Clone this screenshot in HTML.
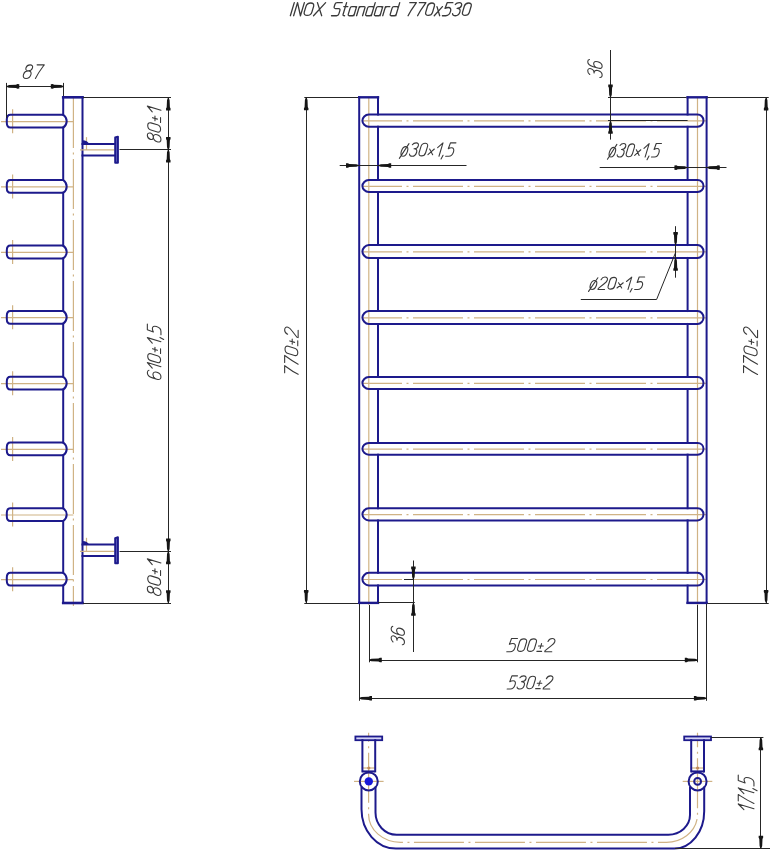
<!DOCTYPE html>
<html><head><meta charset="utf-8"><title>INOX Standard 770x530</title>
<style>
html,body{margin:0;padding:0;background:#fff;}
body{width:770px;height:850px;overflow:hidden;font-family:"Liberation Sans",sans-serif;}
svg{display:block;}
.t path{vector-effect:non-scaling-stroke;}
</style></head><body>
<svg width="770" height="850" viewBox="0 0 770 850">
<rect width="770" height="850" fill="#fff"/>
<g fill="none" stroke="#3a3a3a" stroke-width="1.3" stroke-linecap="round" stroke-linejoin="round" class="t" ><path transform="matrix(1.3625 0.0000 0.3930 -1.3100 290.350 15.750)" d="M0,0 L0,10"/><path transform="matrix(1.3625 0.0000 0.3930 -1.3100 293.620 15.750)" d="M0,0 L0,10 L5,0 L5,10"/><path transform="matrix(1.3625 0.0000 0.3930 -1.3100 303.158 15.750)" d="M0,2.8 L0,7.2 C0,10.6 5.6,10.6 5.6,7.2 L5.6,2.8 C5.6,-0.6 0,-0.6 0,2.8 Z"/><path transform="matrix(1.3625 0.0000 0.3930 -1.3100 313.513 15.750)" d="M0,0 L6,10 M0,10 L6,0"/><path transform="matrix(1.3625 0.0000 0.3930 -1.3100 331.498 15.750)" d="M5,10 L1.3,10 C0.5,10 0,9.4 0,8.6 L0,6.9 C0,6.1 0.5,5.5 1.3,5.5 L3.7,5.5 C4.5,5.5 5,4.9 5,4.1 L5,1.4 C5,0.6 4.5,0 3.7,0 L0,0"/><path transform="matrix(1.3625 0.0000 0.3930 -1.3100 341.036 15.750)" d="M1.2,10 L1.2,1 C1.2,0.3 1.7,0 2.6,0 M0,7 L3,7"/><path transform="matrix(1.3625 0.0000 0.3930 -1.3100 347.849 15.750)" d="M4.4,7 L4.4,0 M4.4,6 L3.6,7 L0.9,7 C0.3,7 0,6.5 0,5.8 L0,1.2 C0,0.5 0.3,0 0.9,0 L3.6,0 L4.4,1"/><path transform="matrix(1.3625 0.0000 0.3930 -1.3100 356.569 15.750)" d="M0,0 L0,7 M0,6 L0.9,7 L3.5,7 C4.1,7 4.4,6.6 4.4,6 L4.4,0"/><path transform="matrix(1.3625 0.0000 0.3930 -1.3100 365.289 15.750)" d="M4.4,10 L4.4,0 M4.4,6 L3.6,7 L0.9,7 C0.3,7 0,6.5 0,5.8 L0,1.2 C0,0.5 0.3,0 0.9,0 L3.6,0 L4.4,1"/><path transform="matrix(1.3625 0.0000 0.3930 -1.3100 374.009 15.750)" d="M4.4,7 L4.4,0 M4.4,6 L3.6,7 L0.9,7 C0.3,7 0,6.5 0,5.8 L0,1.2 C0,0.5 0.3,0 0.9,0 L3.6,0 L4.4,1"/><path transform="matrix(1.3625 0.0000 0.3930 -1.3100 382.730 15.750)" d="M0,0 L0,7 M0,6 L0.9,7 L3.2,7"/><path transform="matrix(1.3625 0.0000 0.3930 -1.3100 389.815 15.750)" d="M4.4,10 L4.4,0 M4.4,6 L3.6,7 L0.9,7 C0.3,7 0,6.5 0,5.8 L0,1.2 C0,0.5 0.3,0 0.9,0 L3.6,0 L4.4,1"/><path transform="matrix(1.3625 0.0000 0.3930 -1.3100 405.620 15.750)" d="M0.2,10 L5,10 C4.2,8 2.6,4.5 1.8,0"/><path transform="matrix(1.3625 0.0000 0.3930 -1.3100 415.158 15.750)" d="M0.2,10 L5,10 C4.2,8 2.6,4.5 1.8,0"/><path transform="matrix(1.3625 0.0000 0.3930 -1.3100 424.696 15.750)" d="M0,2.6 L0,7.4 C0,10.5 5,10.5 5,7.4 L5,2.6 C5,-0.5 0,-0.5 0,2.6 Z"/><path transform="matrix(1.3625 0.0000 0.3930 -1.3100 434.233 15.750)" d="M0,0 L4,7 M0,7 L4,0"/><path transform="matrix(1.3625 0.0000 0.3930 -1.3100 442.409 15.750)" d="M4.8,10 L0.6,10 L0.3,5.6 C1,6.1 1.8,6.3 2.6,6.3 C4.1,6.3 5,5.1 5,3.3 C5,1.2 4,0 2.4,0 L0,0"/><path transform="matrix(1.3625 0.0000 0.3930 -1.3100 451.946 15.750)" d="M0,8.6 C0.4,9.6 1.4,10 2.5,10 C3.9,10 4.8,9.1 4.8,7.8 C4.8,6.4 3.8,5.6 2.2,5.6 C3.9,5.6 5,4.7 5,3 C5,1.1 3.9,0 2.5,0 C1.3,0 0.3,0.5 0,1.6"/><path transform="matrix(1.3625 0.0000 0.3930 -1.3100 461.484 15.750)" d="M0,2.6 L0,7.4 C0,10.5 5,10.5 5,7.4 L5,2.6 C5,-0.5 0,-0.5 0,2.6 Z"/></g>
<line x1="73.4" y1="98" x2="73.4" y2="606" stroke="#d0b385" stroke-width="1.2" stroke-dasharray="50 4.5 2 4.5"/>
<line x1="1.0" y1="121.60000000000001" x2="73.4" y2="121.60000000000001" stroke="#d0b385" stroke-width="1.2" />
<line x1="12.6" y1="109.2" x2="12.6" y2="133.2" stroke="#d0b385" stroke-width="1.2" />
<line x1="1.0" y1="186.8" x2="73.4" y2="186.8" stroke="#d0b385" stroke-width="1.2" />
<line x1="12.6" y1="174.4" x2="12.6" y2="198.4" stroke="#d0b385" stroke-width="1.2" />
<line x1="1.0" y1="252.4" x2="73.4" y2="252.4" stroke="#d0b385" stroke-width="1.2" />
<line x1="12.6" y1="240.0" x2="12.6" y2="264.0" stroke="#d0b385" stroke-width="1.2" />
<line x1="1.0" y1="317.7" x2="73.4" y2="317.7" stroke="#d0b385" stroke-width="1.2" />
<line x1="12.6" y1="305.3" x2="12.6" y2="329.3" stroke="#d0b385" stroke-width="1.2" />
<line x1="1.0" y1="383.59999999999997" x2="73.4" y2="383.59999999999997" stroke="#d0b385" stroke-width="1.2" />
<line x1="12.6" y1="371.2" x2="12.6" y2="395.2" stroke="#d0b385" stroke-width="1.2" />
<line x1="1.0" y1="449.29999999999995" x2="73.4" y2="449.29999999999995" stroke="#d0b385" stroke-width="1.2" />
<line x1="12.6" y1="436.9" x2="12.6" y2="460.9" stroke="#d0b385" stroke-width="1.2" />
<line x1="1.0" y1="515.0" x2="73.4" y2="515.0" stroke="#d0b385" stroke-width="1.2" />
<line x1="12.6" y1="502.6" x2="12.6" y2="526.6" stroke="#d0b385" stroke-width="1.2" />
<line x1="1.0" y1="579.6" x2="73.4" y2="579.6" stroke="#d0b385" stroke-width="1.2" />
<line x1="12.6" y1="567.2" x2="12.6" y2="591.2" stroke="#d0b385" stroke-width="1.2" />
<line x1="82.5" y1="97.3" x2="82.5" y2="603.0" stroke="#1d1a8c" stroke-width="2.0" stroke-linecap="square"/>
<line x1="63.2" y1="97.3" x2="82.5" y2="97.3" stroke="#1d1a8c" stroke-width="2.6" stroke-linecap="square"/>
<line x1="63.2" y1="603.0" x2="82.5" y2="603.0" stroke="#1d1a8c" stroke-width="2.6" stroke-linecap="square"/>
<line x1="63.2" y1="97.3" x2="63.2" y2="114.8" stroke="#1d1a8c" stroke-width="2.0" stroke-linecap="square"/>
<line x1="63.2" y1="127.60000000000001" x2="63.2" y2="180.0" stroke="#1d1a8c" stroke-width="2.0" stroke-linecap="square"/>
<line x1="63.2" y1="192.8" x2="63.2" y2="245.6" stroke="#1d1a8c" stroke-width="2.0" stroke-linecap="square"/>
<line x1="63.2" y1="258.4" x2="63.2" y2="310.90000000000003" stroke="#1d1a8c" stroke-width="2.0" stroke-linecap="square"/>
<line x1="63.2" y1="323.7" x2="63.2" y2="376.8" stroke="#1d1a8c" stroke-width="2.0" stroke-linecap="square"/>
<line x1="63.2" y1="389.59999999999997" x2="63.2" y2="442.5" stroke="#1d1a8c" stroke-width="2.0" stroke-linecap="square"/>
<line x1="63.2" y1="455.29999999999995" x2="63.2" y2="508.20000000000005" stroke="#1d1a8c" stroke-width="2.0" stroke-linecap="square"/>
<line x1="63.2" y1="521.0" x2="63.2" y2="572.8000000000001" stroke="#1d1a8c" stroke-width="2.0" stroke-linecap="square"/>
<line x1="63.2" y1="585.6" x2="63.2" y2="603.0" stroke="#1d1a8c" stroke-width="2.0" stroke-linecap="square"/>
<path d="M63.2,114.8 L10.4,114.8 C8.1,114.8 6.8,117.0 6.8,119.60000000000001 L6.8,122.8 C6.8,125.4 8.1,127.60000000000001 10.4,127.60000000000001 L63.2,127.60000000000001" stroke="#1d1a8c" stroke-width="2.0" fill="none" />
<path d="M63.2,114.8 C65.6,116.6 66.7,118.8 66.7,121.2 C66.7,123.60000000000001 65.6,125.80000000000001 63.2,127.60000000000001" stroke="#1d1a8c" stroke-width="2.0" fill="none" />
<path d="M63.2,180.0 L10.4,180.0 C8.1,180.0 6.8,182.2 6.8,184.8 L6.8,188.0 C6.8,190.60000000000002 8.1,192.8 10.4,192.8 L63.2,192.8" stroke="#1d1a8c" stroke-width="2.0" fill="none" />
<path d="M63.2,180.0 C65.6,181.8 66.7,184.0 66.7,186.4 C66.7,188.8 65.6,191.0 63.2,192.8" stroke="#1d1a8c" stroke-width="2.0" fill="none" />
<path d="M63.2,245.6 L10.4,245.6 C8.1,245.6 6.8,247.79999999999998 6.8,250.4 L6.8,253.6 C6.8,256.2 8.1,258.4 10.4,258.4 L63.2,258.4" stroke="#1d1a8c" stroke-width="2.0" fill="none" />
<path d="M63.2,245.6 C65.6,247.4 66.7,249.6 66.7,252.0 C66.7,254.4 65.6,256.59999999999997 63.2,258.4" stroke="#1d1a8c" stroke-width="2.0" fill="none" />
<path d="M63.2,310.90000000000003 L10.4,310.90000000000003 C8.1,310.90000000000003 6.8,313.1 6.8,315.7 L6.8,318.90000000000003 C6.8,321.5 8.1,323.7 10.4,323.7 L63.2,323.7" stroke="#1d1a8c" stroke-width="2.0" fill="none" />
<path d="M63.2,310.90000000000003 C65.6,312.70000000000005 66.7,314.90000000000003 66.7,317.3 C66.7,319.7 65.6,321.9 63.2,323.7" stroke="#1d1a8c" stroke-width="2.0" fill="none" />
<path d="M63.2,376.8 L10.4,376.8 C8.1,376.8 6.8,379.0 6.8,381.59999999999997 L6.8,384.8 C6.8,387.4 8.1,389.59999999999997 10.4,389.59999999999997 L63.2,389.59999999999997" stroke="#1d1a8c" stroke-width="2.0" fill="none" />
<path d="M63.2,376.8 C65.6,378.6 66.7,380.8 66.7,383.2 C66.7,385.59999999999997 65.6,387.79999999999995 63.2,389.59999999999997" stroke="#1d1a8c" stroke-width="2.0" fill="none" />
<path d="M63.2,442.5 L10.4,442.5 C8.1,442.5 6.8,444.7 6.8,447.29999999999995 L6.8,450.5 C6.8,453.09999999999997 8.1,455.29999999999995 10.4,455.29999999999995 L63.2,455.29999999999995" stroke="#1d1a8c" stroke-width="2.0" fill="none" />
<path d="M63.2,442.5 C65.6,444.3 66.7,446.5 66.7,448.9 C66.7,451.29999999999995 65.6,453.49999999999994 63.2,455.29999999999995" stroke="#1d1a8c" stroke-width="2.0" fill="none" />
<path d="M63.2,508.20000000000005 L10.4,508.20000000000005 C8.1,508.20000000000005 6.8,510.40000000000003 6.8,513.0 L6.8,516.2 C6.8,518.8 8.1,521.0 10.4,521.0 L63.2,521.0" stroke="#1d1a8c" stroke-width="2.0" fill="none" />
<path d="M63.2,508.20000000000005 C65.6,510.00000000000006 66.7,512.2 66.7,514.6 C66.7,517.0 65.6,519.2 63.2,521.0" stroke="#1d1a8c" stroke-width="2.0" fill="none" />
<path d="M63.2,572.8000000000001 L10.4,572.8000000000001 C8.1,572.8000000000001 6.8,575.0000000000001 6.8,577.6 L6.8,580.8000000000001 C6.8,583.4 8.1,585.6 10.4,585.6 L63.2,585.6" stroke="#1d1a8c" stroke-width="2.0" fill="none" />
<path d="M63.2,572.8000000000001 C65.6,574.6 66.7,576.8000000000001 66.7,579.2 C66.7,581.6 65.6,583.8000000000001 63.2,585.6" stroke="#1d1a8c" stroke-width="2.0" fill="none" />
<line x1="80" y1="149.9" x2="114.5" y2="149.9" stroke="#d0b385" stroke-width="1.2" />
<line x1="86.5" y1="137.15" x2="86.5" y2="149.9" stroke="#d0b385" stroke-width="1.2" />
<line x1="82.5" y1="143.9" x2="114.8" y2="143.9" stroke="#1d1a8c" stroke-width="2.0" stroke-linecap="square"/>
<line x1="82.5" y1="155.4" x2="114.8" y2="155.4" stroke="#1d1a8c" stroke-width="2.0" stroke-linecap="square"/>
<path d="M115.2,137.45000000000002 L117.9,136.65 L117.9,162.65 L115.2,162.65 Z" fill="#6f6ec8" stroke="#1d1a8c" stroke-width="2" stroke-linejoin="round"/>
<path d="M82.5,140.25 C85.8,140.25 88.2,141.65 89.2,143.9 L82.5,143.9 Z" fill="#1d1a8c"/>
<line x1="80" y1="551.3" x2="114.5" y2="551.3" stroke="#d0b385" stroke-width="1.2" />
<line x1="86.5" y1="537.8" x2="86.5" y2="551.3" stroke="#d0b385" stroke-width="1.2" />
<line x1="82.5" y1="544.55" x2="114.8" y2="544.55" stroke="#1d1a8c" stroke-width="2.0" stroke-linecap="square"/>
<line x1="82.5" y1="556.05" x2="114.8" y2="556.05" stroke="#1d1a8c" stroke-width="2.0" stroke-linecap="square"/>
<path d="M115.2,538.0999999999999 L117.9,537.3 L117.9,563.3 L115.2,563.3 Z" fill="#6f6ec8" stroke="#1d1a8c" stroke-width="2" stroke-linejoin="round"/>
<path d="M82.5,540.9 C85.8,540.9 88.2,542.3 89.2,544.55 L82.5,544.55 Z" fill="#1d1a8c"/>
<line x1="6.5" y1="82.9" x2="6.5" y2="118" stroke="#262626" stroke-width="1.0" />
<line x1="63.5" y1="82.9" x2="63.5" y2="96" stroke="#262626" stroke-width="1.0" />
<line x1="6.5" y1="86.5" x2="63.6" y2="86.5" stroke="#262626" stroke-width="1.0" />
<polygon points="6.80,85.90 9.00,85.10 16.00,84.80 17.40,84.10 19.30,84.20 19.30,88.60 17.40,88.70 16.00,88.00 9.00,87.70 6.80,86.90" fill="#151515"/>
<polygon points="63.30,85.90 61.10,85.10 54.10,84.80 52.70,84.10 50.80,84.20 50.80,88.60 52.70,88.70 54.10,88.00 61.10,87.70 63.30,86.90" fill="#151515"/>
<g fill="none" stroke="#3a3a3a" stroke-width="1.1" stroke-linecap="round" stroke-linejoin="round" class="t" ><path transform="matrix(1.4868 0.0000 0.4080 -1.3600 22.329 78.450)" d="M2.5,5.6 C1.1,5.6 0.3,6.5 0.3,7.8 C0.3,9.2 1.3,10 2.5,10 C3.7,10 4.7,9.2 4.7,7.8 C4.7,6.5 3.9,5.6 2.5,5.6 C1,5.6 0,4.6 0,2.8 C0,1 1,0 2.5,0 C4,0 5,1 5,2.8 C5,4.6 4,5.6 2.5,5.6 Z"/><path transform="matrix(1.4868 0.0000 0.4080 -1.3600 32.736 78.450)" d="M0.2,10 L5,10 C4.2,8 2.6,4.5 1.8,0"/></g>
<line x1="83" y1="97.5" x2="171" y2="97.5" stroke="#262626" stroke-width="1.0" />
<line x1="119.5" y1="149.5" x2="171" y2="149.5" stroke="#262626" stroke-width="1.0" />
<line x1="119.5" y1="551.5" x2="171" y2="551.5" stroke="#262626" stroke-width="1.0" />
<line x1="83" y1="603.5" x2="171" y2="603.5" stroke="#262626" stroke-width="1.0" />
<line x1="168.5" y1="97.5" x2="168.5" y2="603.1" stroke="#262626" stroke-width="1.0" />
<polygon points="167.80,98.00 167.00,100.20 166.70,107.20 166.00,108.60 166.10,110.50 170.50,110.50 170.60,108.60 169.90,107.20 169.60,100.20 168.80,98.00" fill="#151515"/>
<polygon points="167.80,149.50 167.00,147.30 166.70,140.30 166.00,138.90 166.10,137.00 170.50,137.00 170.60,138.90 169.90,140.30 169.60,147.30 168.80,149.50" fill="#151515"/>
<polygon points="167.80,150.00 167.00,152.20 166.70,159.20 166.00,160.60 166.10,162.50 170.50,162.50 170.60,160.60 169.90,159.20 169.60,152.20 168.80,150.00" fill="#151515"/>
<polygon points="167.80,551.10 167.00,548.90 166.70,541.90 166.00,540.50 166.10,538.60 170.50,538.60 170.60,540.50 169.90,541.90 169.60,548.90 168.80,551.10" fill="#151515"/>
<polygon points="167.80,551.70 167.00,553.90 166.70,560.90 166.00,562.30 166.10,564.20 170.50,564.20 170.60,562.30 169.90,560.90 169.60,553.90 168.80,551.70" fill="#151515"/>
<polygon points="167.80,602.80 167.00,600.60 166.70,593.60 166.00,592.20 166.10,590.30 170.50,590.30 170.60,592.20 169.90,593.60 169.60,600.60 168.80,602.80" fill="#151515"/>
<g fill="none" stroke="#3a3a3a" stroke-width="1.1" stroke-linecap="round" stroke-linejoin="round" class="t" ><path transform="matrix(0.0000 -1.4230 -1.3600 -0.4080 160.950 142.960)" d="M2.5,5.6 C1.1,5.6 0.3,6.5 0.3,7.8 C0.3,9.2 1.3,10 2.5,10 C3.7,10 4.7,9.2 4.7,7.8 C4.7,6.5 3.9,5.6 2.5,5.6 C1,5.6 0,4.6 0,2.8 C0,1 1,0 2.5,0 C4,0 5,1 5,2.8 C5,4.6 4,5.6 2.5,5.6 Z"/><path transform="matrix(0.0000 -1.4230 -1.3600 -0.4080 160.950 132.999)" d="M0,2.6 L0,7.4 C0,10.5 5,10.5 5,7.4 L5,2.6 C5,-0.5 0,-0.5 0,2.6 Z"/><path transform="matrix(0.0000 -1.4230 -1.3600 -0.4080 160.950 123.037)" d="M0.3,4.4 L3.7,4.4 M2,2.6 L2,6.2 M0.3,0.3 L3.7,0.3"/><path transform="matrix(0.0000 -1.4230 -1.3600 -0.4080 160.950 114.499)" d="M0,6.4 L3,10 L3,0"/></g>
<g fill="none" stroke="#3a3a3a" stroke-width="1.1" stroke-linecap="round" stroke-linejoin="round" class="t" ><path transform="matrix(0.0000 -1.3715 -1.3600 -0.4080 160.950 380.385)" d="M4.8,8.8 C4.4,9.6 3.6,10 2.6,10 C1,10 0,8.6 0,6.2 L0,3 C0,1 1,0 2.5,0 C4,0 5,1 5,3 C5,4.9 4,5.9 2.5,5.9 C1.2,5.9 0.3,5.2 0,4"/><path transform="matrix(0.0000 -1.3715 -1.3600 -0.4080 160.950 370.784)" d="M0,6.4 L3,10 L3,0"/><path transform="matrix(0.0000 -1.3715 -1.3600 -0.4080 160.950 363.652)" d="M0,2.6 L0,7.4 C0,10.5 5,10.5 5,7.4 L5,2.6 C5,-0.5 0,-0.5 0,2.6 Z"/><path transform="matrix(0.0000 -1.3715 -1.3600 -0.4080 160.950 354.052)" d="M0.3,4.4 L3.7,4.4 M2,2.6 L2,6.2 M0.3,0.3 L3.7,0.3"/><path transform="matrix(0.0000 -1.3715 -1.3600 -0.4080 160.950 345.823)" d="M0,6.4 L3,10 L3,0"/><path transform="matrix(0.0000 -1.3715 -1.3600 -0.4080 160.950 338.691)" d="M0.7,0.7 L0,-2"/><path transform="matrix(0.0000 -1.3715 -1.3600 -0.4080 160.950 334.713)" d="M4.8,10 L0.6,10 L0.3,5.6 C1,6.1 1.8,6.3 2.6,6.3 C4.1,6.3 5,5.1 5,3.3 C5,1.2 4,0 2.4,0 L0,0"/></g>
<g fill="none" stroke="#3a3a3a" stroke-width="1.1" stroke-linecap="round" stroke-linejoin="round" class="t" ><path transform="matrix(0.0000 -1.4537 -1.3600 -0.4080 160.950 596.365)" d="M2.5,5.6 C1.1,5.6 0.3,6.5 0.3,7.8 C0.3,9.2 1.3,10 2.5,10 C3.7,10 4.7,9.2 4.7,7.8 C4.7,6.5 3.9,5.6 2.5,5.6 C1,5.6 0,4.6 0,2.8 C0,1 1,0 2.5,0 C4,0 5,1 5,2.8 C5,4.6 4,5.6 2.5,5.6 Z"/><path transform="matrix(0.0000 -1.4537 -1.3600 -0.4080 160.950 586.189)" d="M0,2.6 L0,7.4 C0,10.5 5,10.5 5,7.4 L5,2.6 C5,-0.5 0,-0.5 0,2.6 Z"/><path transform="matrix(0.0000 -1.4537 -1.3600 -0.4080 160.950 576.013)" d="M0.3,4.4 L3.7,4.4 M2,2.6 L2,6.2 M0.3,0.3 L3.7,0.3"/><path transform="matrix(0.0000 -1.4537 -1.3600 -0.4080 160.950 567.291)" d="M0,6.4 L3,10 L3,0"/></g>
<line x1="368.8" y1="98" x2="368.8" y2="605" stroke="#d0b385" stroke-width="1.2" />
<line x1="697.5" y1="98" x2="697.5" y2="605" stroke="#d0b385" stroke-width="1.2" />
<line x1="363" y1="120.95" x2="706" y2="120.95" stroke="#d0b385" stroke-width="1.2" stroke-dasharray="50 4.5 2 4.5" stroke-dashoffset="11"/>
<line x1="363" y1="186.3" x2="706" y2="186.3" stroke="#d0b385" stroke-width="1.2" stroke-dasharray="50 4.5 2 4.5" stroke-dashoffset="11"/>
<line x1="363" y1="251.8" x2="706" y2="251.8" stroke="#d0b385" stroke-width="1.2" stroke-dasharray="50 4.5 2 4.5" stroke-dashoffset="11"/>
<line x1="363" y1="317.8" x2="706" y2="317.8" stroke="#d0b385" stroke-width="1.2" stroke-dasharray="50 4.5 2 4.5" stroke-dashoffset="11"/>
<line x1="363" y1="383.3" x2="706" y2="383.3" stroke="#d0b385" stroke-width="1.2" stroke-dasharray="50 4.5 2 4.5" stroke-dashoffset="11"/>
<line x1="363" y1="449.1" x2="706" y2="449.1" stroke="#d0b385" stroke-width="1.2" stroke-dasharray="50 4.5 2 4.5" stroke-dashoffset="11"/>
<line x1="363" y1="514.5999999999999" x2="706" y2="514.5999999999999" stroke="#d0b385" stroke-width="1.2" stroke-dasharray="50 4.5 2 4.5" stroke-dashoffset="11"/>
<line x1="363" y1="579.5" x2="706" y2="579.5" stroke="#d0b385" stroke-width="1.2" stroke-dasharray="50 4.5 2 4.5" stroke-dashoffset="11"/>
<line x1="359.2" y1="97.3" x2="378.0" y2="97.3" stroke="#1d1a8c" stroke-width="2.4" stroke-linecap="square"/>
<line x1="359.2" y1="602.9" x2="378.0" y2="602.9" stroke="#1d1a8c" stroke-width="2.4" stroke-linecap="square"/>
<line x1="687.6" y1="97.3" x2="706.6" y2="97.3" stroke="#1d1a8c" stroke-width="2.4" stroke-linecap="square"/>
<line x1="687.6" y1="602.9" x2="706.6" y2="602.9" stroke="#1d1a8c" stroke-width="2.4" stroke-linecap="square"/>
<line x1="359.2" y1="97.3" x2="359.2" y2="602.9" stroke="#1d1a8c" stroke-width="2.0" stroke-linecap="square"/>
<line x1="706.6" y1="97.3" x2="706.6" y2="602.9" stroke="#1d1a8c" stroke-width="2.0" stroke-linecap="square"/>
<line x1="378.0" y1="97.3" x2="378.0" y2="114.5" stroke="#1d1a8c" stroke-width="2.0" stroke-linecap="square"/>
<line x1="687.6" y1="97.3" x2="687.6" y2="114.5" stroke="#1d1a8c" stroke-width="2.0" stroke-linecap="square"/>
<line x1="378.0" y1="126.80000000000001" x2="378.0" y2="179.96" stroke="#1d1a8c" stroke-width="2.0" stroke-linecap="square"/>
<line x1="687.6" y1="126.80000000000001" x2="687.6" y2="179.96" stroke="#1d1a8c" stroke-width="2.0" stroke-linecap="square"/>
<line x1="378.0" y1="192.04" x2="378.0" y2="245.05" stroke="#1d1a8c" stroke-width="2.0" stroke-linecap="square"/>
<line x1="687.6" y1="192.04" x2="687.6" y2="245.05" stroke="#1d1a8c" stroke-width="2.0" stroke-linecap="square"/>
<line x1="378.0" y1="257.95" x2="378.0" y2="311.05" stroke="#1d1a8c" stroke-width="2.0" stroke-linecap="square"/>
<line x1="687.6" y1="257.95" x2="687.6" y2="311.05" stroke="#1d1a8c" stroke-width="2.0" stroke-linecap="square"/>
<line x1="378.0" y1="323.95" x2="378.0" y2="376.96" stroke="#1d1a8c" stroke-width="2.0" stroke-linecap="square"/>
<line x1="687.6" y1="323.95" x2="687.6" y2="376.96" stroke="#1d1a8c" stroke-width="2.0" stroke-linecap="square"/>
<line x1="378.0" y1="389.04" x2="378.0" y2="442.95" stroke="#1d1a8c" stroke-width="2.0" stroke-linecap="square"/>
<line x1="687.6" y1="389.04" x2="687.6" y2="442.95" stroke="#1d1a8c" stroke-width="2.0" stroke-linecap="square"/>
<line x1="378.0" y1="454.65000000000003" x2="378.0" y2="508.19999999999993" stroke="#1d1a8c" stroke-width="2.0" stroke-linecap="square"/>
<line x1="687.6" y1="454.65000000000003" x2="687.6" y2="508.19999999999993" stroke="#1d1a8c" stroke-width="2.0" stroke-linecap="square"/>
<line x1="378.0" y1="520.4" x2="378.0" y2="572.85" stroke="#1d1a8c" stroke-width="2.0" stroke-linecap="square"/>
<line x1="687.6" y1="520.4" x2="687.6" y2="572.85" stroke="#1d1a8c" stroke-width="2.0" stroke-linecap="square"/>
<line x1="378.0" y1="585.5500000000001" x2="378.0" y2="602.9" stroke="#1d1a8c" stroke-width="2.0" stroke-linecap="square"/>
<line x1="687.6" y1="585.5500000000001" x2="687.6" y2="602.9" stroke="#1d1a8c" stroke-width="2.0" stroke-linecap="square"/>
<path d="M368.8,114.5 L697.5,114.5 C700.9,114.5 703.5,117.25 703.5,120.65 C703.5,124.05000000000001 700.9,126.80000000000001 697.5,126.80000000000001 L368.8,126.80000000000001 C365.2,126.80000000000001 362.4,123.45 362.4,120.65 C362.4,117.85000000000001 365.2,114.5 368.8,114.5 Z" stroke="#1d1a8c" stroke-width="2.0" fill="none" />
<path d="M368.8,179.96 L697.5,179.96 C700.9,179.96 703.5,182.6 703.5,186.0 C703.5,189.4 700.9,192.04 697.5,192.04 L368.8,192.04 C365.2,192.04 362.4,188.8 362.4,186.0 C362.4,183.2 365.2,179.96 368.8,179.96 Z" stroke="#1d1a8c" stroke-width="2.0" fill="none" />
<path d="M368.8,245.05 L697.5,245.05 C700.9,245.05 703.5,248.1 703.5,251.5 C703.5,254.9 700.9,257.95 697.5,257.95 L368.8,257.95 C365.2,257.95 362.4,254.3 362.4,251.5 C362.4,248.7 365.2,245.05 368.8,245.05 Z" stroke="#1d1a8c" stroke-width="2.0" fill="none" />
<path d="M368.8,311.05 L697.5,311.05 C700.9,311.05 703.5,314.1 703.5,317.5 C703.5,320.9 700.9,323.95 697.5,323.95 L368.8,323.95 C365.2,323.95 362.4,320.3 362.4,317.5 C362.4,314.7 365.2,311.05 368.8,311.05 Z" stroke="#1d1a8c" stroke-width="2.0" fill="none" />
<path d="M368.8,376.96 L697.5,376.96 C700.9,376.96 703.5,379.6 703.5,383.0 C703.5,386.4 700.9,389.04 697.5,389.04 L368.8,389.04 C365.2,389.04 362.4,385.8 362.4,383.0 C362.4,380.2 365.2,376.96 368.8,376.96 Z" stroke="#1d1a8c" stroke-width="2.0" fill="none" />
<path d="M368.8,442.95 L697.5,442.95 C700.9,442.95 703.5,445.40000000000003 703.5,448.8 C703.5,452.2 700.9,454.65000000000003 697.5,454.65000000000003 L368.8,454.65000000000003 C365.2,454.65000000000003 362.4,451.6 362.4,448.8 C362.4,446.0 365.2,442.95 368.8,442.95 Z" stroke="#1d1a8c" stroke-width="2.0" fill="none" />
<path d="M368.8,508.19999999999993 L697.5,508.19999999999993 C700.9,508.19999999999993 703.5,510.9 703.5,514.3 C703.5,517.6999999999999 700.9,520.4 697.5,520.4 L368.8,520.4 C365.2,520.4 362.4,517.0999999999999 362.4,514.3 C362.4,511.49999999999994 365.2,508.19999999999993 368.8,508.19999999999993 Z" stroke="#1d1a8c" stroke-width="2.0" fill="none" />
<path d="M368.8,572.85 L697.5,572.85 C700.9,572.85 703.5,575.8000000000001 703.5,579.2 C703.5,582.6 700.9,585.5500000000001 697.5,585.5500000000001 L368.8,585.5500000000001 C365.2,585.5500000000001 362.4,582.0 362.4,579.2 C362.4,576.4000000000001 365.2,572.85 368.8,572.85 Z" stroke="#1d1a8c" stroke-width="2.0" fill="none" />
<line x1="304.3" y1="97.5" x2="358" y2="97.5" stroke="#262626" stroke-width="1.0" />
<line x1="304.3" y1="603.5" x2="358" y2="603.5" stroke="#262626" stroke-width="1.0" />
<line x1="306.5" y1="97.3" x2="306.5" y2="603" stroke="#262626" stroke-width="1.0" />
<polygon points="305.70,97.80 304.90,100.00 304.60,107.00 303.90,108.40 304.00,110.30 308.40,110.30 308.50,108.40 307.80,107.00 307.50,100.00 306.70,97.80" fill="#151515"/>
<polygon points="305.70,602.50 304.90,600.30 304.60,593.30 303.90,591.90 304.00,590.00 308.40,590.00 308.50,591.90 307.80,593.30 307.50,600.30 306.70,602.50" fill="#151515"/>
<g fill="none" stroke="#3a3a3a" stroke-width="1.1" stroke-linecap="round" stroke-linejoin="round" class="t" ><path transform="matrix(0.0000 -1.4592 -1.3500 -0.4050 298.150 376.977)" d="M0.2,10 L5,10 C4.2,8 2.6,4.5 1.8,0"/><path transform="matrix(0.0000 -1.4592 -1.3500 -0.4050 298.150 366.762)" d="M0.2,10 L5,10 C4.2,8 2.6,4.5 1.8,0"/><path transform="matrix(0.0000 -1.4592 -1.3500 -0.4050 298.150 356.548)" d="M0,2.6 L0,7.4 C0,10.5 5,10.5 5,7.4 L5,2.6 C5,-0.5 0,-0.5 0,2.6 Z"/><path transform="matrix(0.0000 -1.4592 -1.3500 -0.4050 298.150 346.334)" d="M0.3,4.4 L3.7,4.4 M2,2.6 L2,6.2 M0.3,0.3 L3.7,0.3"/><path transform="matrix(0.0000 -1.4592 -1.3500 -0.4050 298.150 337.579)" d="M0.1,7.8 C0.4,9.4 1.4,10 2.5,10 C3.9,10 5,9.1 5,7.6 C5,6.4 4.4,5.6 3.4,4.6 L0,0.9 L0,0 L5,0"/></g>
<line x1="608" y1="97.5" x2="686.5" y2="97.5" stroke="#262626" stroke-width="1.0" />
<line x1="707.5" y1="97.5" x2="768.7" y2="97.5" stroke="#262626" stroke-width="1.0" />
<line x1="707.5" y1="603.5" x2="768.7" y2="603.5" stroke="#262626" stroke-width="1.0" />
<line x1="766.5" y1="97.4" x2="766.5" y2="603" stroke="#262626" stroke-width="1.0" />
<polygon points="765.60,97.90 764.80,100.10 764.50,107.10 763.80,108.50 763.90,110.40 768.30,110.40 768.40,108.50 767.70,107.10 767.40,100.10 766.60,97.90" fill="#151515"/>
<polygon points="765.60,602.50 764.80,600.30 764.50,593.30 763.80,591.90 763.90,590.00 768.30,590.00 768.40,591.90 767.70,593.30 767.40,600.30 766.60,602.50" fill="#151515"/>
<g fill="none" stroke="#3a3a3a" stroke-width="1.1" stroke-linecap="round" stroke-linejoin="round" class="t" ><path transform="matrix(0.0000 -1.4584 -1.4000 -0.4200 757.550 377.075)" d="M0.2,10 L5,10 C4.2,8 2.6,4.5 1.8,0"/><path transform="matrix(0.0000 -1.4584 -1.4000 -0.4200 757.550 366.866)" d="M0.2,10 L5,10 C4.2,8 2.6,4.5 1.8,0"/><path transform="matrix(0.0000 -1.4584 -1.4000 -0.4200 757.550 356.658)" d="M0,2.6 L0,7.4 C0,10.5 5,10.5 5,7.4 L5,2.6 C5,-0.5 0,-0.5 0,2.6 Z"/><path transform="matrix(0.0000 -1.4584 -1.4000 -0.4200 757.550 346.449)" d="M0.3,4.4 L3.7,4.4 M2,2.6 L2,6.2 M0.3,0.3 L3.7,0.3"/><path transform="matrix(0.0000 -1.4584 -1.4000 -0.4200 757.550 337.699)" d="M0.1,7.8 C0.4,9.4 1.4,10 2.5,10 C3.9,10 5,9.1 5,7.6 C5,6.4 4.4,5.6 3.4,4.6 L0,0.9 L0,0 L5,0"/></g>
<line x1="339.7" y1="165.5" x2="466.5" y2="165.5" stroke="#262626" stroke-width="1.0" />
<polygon points="358.50,165.00 356.30,164.20 349.30,163.90 347.90,163.20 346.00,163.30 346.00,167.70 347.90,167.80 349.30,167.10 356.30,166.80 358.50,166.00" fill="#151515"/>
<polygon points="378.70,165.00 380.90,164.20 387.90,163.90 389.30,163.20 391.20,163.30 391.20,167.70 389.30,167.80 387.90,167.10 380.90,166.80 378.70,166.00" fill="#151515"/>
<g fill="none" stroke="#3a3a3a" stroke-width="1.1" stroke-linecap="round" stroke-linejoin="round" class="t" ><path transform="matrix(1.3082 0.0000 0.4020 -1.3400 399.732 156.250)" d="M2.4,0 C0.9,0 0.1,1.5 0.1,3.6 C0.1,5.8 1.0,7.2 2.5,7.2 C4.0,7.2 4.8,5.8 4.8,3.6 C4.8,1.5 3.9,0 2.4,0 Z M0.2,-1.6 L4.2,9.4"/><path transform="matrix(1.3082 0.0000 0.4020 -1.3400 408.889 156.250)" d="M0,8.6 C0.4,9.6 1.4,10 2.5,10 C3.9,10 4.8,9.1 4.8,7.8 C4.8,6.4 3.8,5.6 2.2,5.6 C3.9,5.6 5,4.7 5,3 C5,1.1 3.9,0 2.5,0 C1.3,0 0.3,0.5 0,1.6"/><path transform="matrix(1.3082 0.0000 0.4020 -1.3400 418.047 156.250)" d="M0,2.6 L0,7.4 C0,10.5 5,10.5 5,7.4 L5,2.6 C5,-0.5 0,-0.5 0,2.6 Z"/><path transform="matrix(1.3082 0.0000 0.4020 -1.3400 427.204 156.250)" d="M0.2,1.2 L3.8,5.4 M0.2,5.4 L3.8,1.2"/><path transform="matrix(1.3082 0.0000 0.4020 -1.3400 435.054 156.250)" d="M0,6.4 L3,10 L3,0"/><path transform="matrix(1.3082 0.0000 0.4020 -1.3400 441.857 156.250)" d="M0.7,0.7 L0,-2"/><path transform="matrix(1.3082 0.0000 0.4020 -1.3400 445.650 156.250)" d="M4.8,10 L0.6,10 L0.3,5.6 C1,6.1 1.8,6.3 2.6,6.3 C4.1,6.3 5,5.1 5,3.3 C5,1.2 4,0 2.4,0 L0,0"/></g>
<line x1="599.7" y1="167.5" x2="726.5" y2="167.5" stroke="#262626" stroke-width="1.0" />
<polygon points="686.90,167.10 684.70,166.30 677.70,166.00 676.30,165.30 674.40,165.40 674.40,169.80 676.30,169.90 677.70,169.20 684.70,168.90 686.90,168.10" fill="#151515"/>
<polygon points="707.30,167.10 709.50,166.30 716.50,166.00 717.90,165.30 719.80,165.40 719.80,169.80 717.90,169.90 716.50,169.20 709.50,168.90 707.30,168.10" fill="#151515"/>
<g fill="none" stroke="#3a3a3a" stroke-width="1.1" stroke-linecap="round" stroke-linejoin="round" class="t" ><path transform="matrix(1.2419 0.0000 0.4050 -1.3500 607.850 157.050)" d="M2.4,0 C0.9,0 0.1,1.5 0.1,3.6 C0.1,5.8 1.0,7.2 2.5,7.2 C4.0,7.2 4.8,5.8 4.8,3.6 C4.8,1.5 3.9,0 2.4,0 Z M0.2,-1.6 L4.2,9.4"/><path transform="matrix(1.2419 0.0000 0.4050 -1.3500 616.543 157.050)" d="M0,8.6 C0.4,9.6 1.4,10 2.5,10 C3.9,10 4.8,9.1 4.8,7.8 C4.8,6.4 3.8,5.6 2.2,5.6 C3.9,5.6 5,4.7 5,3 C5,1.1 3.9,0 2.5,0 C1.3,0 0.3,0.5 0,1.6"/><path transform="matrix(1.2419 0.0000 0.4050 -1.3500 625.236 157.050)" d="M0,2.6 L0,7.4 C0,10.5 5,10.5 5,7.4 L5,2.6 C5,-0.5 0,-0.5 0,2.6 Z"/><path transform="matrix(1.2419 0.0000 0.4050 -1.3500 633.929 157.050)" d="M0.2,1.2 L3.8,5.4 M0.2,5.4 L3.8,1.2"/><path transform="matrix(1.2419 0.0000 0.4050 -1.3500 641.380 157.050)" d="M0,6.4 L3,10 L3,0"/><path transform="matrix(1.2419 0.0000 0.4050 -1.3500 647.838 157.050)" d="M0.7,0.7 L0,-2"/><path transform="matrix(1.2419 0.0000 0.4050 -1.3500 651.439 157.050)" d="M4.8,10 L0.6,10 L0.3,5.6 C1,6.1 1.8,6.3 2.6,6.3 C4.1,6.3 5,5.1 5,3.3 C5,1.2 4,0 2.4,0 L0,0"/></g>
<line x1="610.5" y1="50" x2="610.5" y2="139.6" stroke="#262626" stroke-width="1.0" />
<polygon points="610.00,97.00 609.20,94.80 608.90,87.80 608.20,86.40 608.30,84.50 612.70,84.50 612.80,86.40 612.10,87.80 611.80,94.80 611.00,97.00" fill="#151515"/>
<polygon points="610.00,121.30 609.20,123.50 608.90,130.50 608.20,131.90 608.30,133.80 612.70,133.80 612.80,131.90 612.10,130.50 611.80,123.50 611.00,121.30" fill="#151515"/>
<line x1="608" y1="120.5" x2="687.6" y2="120.5" stroke="#262626" stroke-width="1.0" />
<g fill="none" stroke="#3a3a3a" stroke-width="1.1" stroke-linecap="round" stroke-linejoin="round" class="t" ><path transform="matrix(0.0000 -1.2532 -1.4400 -0.4320 602.150 78.140)" d="M0,8.6 C0.4,9.6 1.4,10 2.5,10 C3.9,10 4.8,9.1 4.8,7.8 C4.8,6.4 3.8,5.6 2.2,5.6 C3.9,5.6 5,4.7 5,3 C5,1.1 3.9,0 2.5,0 C1.3,0 0.3,0.5 0,1.6"/><path transform="matrix(0.0000 -1.2532 -1.4400 -0.4320 602.150 69.367)" d="M4.8,8.8 C4.4,9.6 3.6,10 2.6,10 C1,10 0,8.6 0,6.2 L0,3 C0,1 1,0 2.5,0 C4,0 5,1 5,3 C5,4.9 4,5.9 2.5,5.9 C1.2,5.9 0.3,5.2 0,4"/></g>
<line x1="413.5" y1="560.5" x2="413.5" y2="652" stroke="#262626" stroke-width="1.0" />
<polygon points="412.90,579.00 412.10,576.80 411.80,569.80 411.10,568.40 411.20,566.50 415.60,566.50 415.70,568.40 415.00,569.80 414.70,576.80 413.90,579.00" fill="#151515"/>
<polygon points="412.90,603.30 412.10,605.50 411.80,612.50 411.10,613.90 411.20,615.80 415.60,615.80 415.70,613.90 415.00,612.50 414.70,605.50 413.90,603.30" fill="#151515"/>
<line x1="378" y1="602.5" x2="414.8" y2="602.5" stroke="#262626" stroke-width="1.0" />
<line x1="404" y1="579.5" x2="414" y2="579.5" stroke="#262626" stroke-width="1.0" />
<g fill="none" stroke="#3a3a3a" stroke-width="1.1" stroke-linecap="round" stroke-linejoin="round" class="t" ><path transform="matrix(0.0000 -1.3159 -1.3300 -0.3990 404.450 645.388)" d="M0,8.6 C0.4,9.6 1.4,10 2.5,10 C3.9,10 4.8,9.1 4.8,7.8 C4.8,6.4 3.8,5.6 2.2,5.6 C3.9,5.6 5,4.7 5,3 C5,1.1 3.9,0 2.5,0 C1.3,0 0.3,0.5 0,1.6"/><path transform="matrix(0.0000 -1.3159 -1.3300 -0.3990 404.450 636.177)" d="M4.8,8.8 C4.4,9.6 3.6,10 2.6,10 C1,10 0,8.6 0,6.2 L0,3 C0,1 1,0 2.5,0 C4,0 5,1 5,3 C5,4.9 4,5.9 2.5,5.9 C1.2,5.9 0.3,5.2 0,4"/></g>
<line x1="369.5" y1="605" x2="369.5" y2="662.3" stroke="#262626" stroke-width="1.0" />
<line x1="697.5" y1="605" x2="697.5" y2="662.3" stroke="#262626" stroke-width="1.0" />
<line x1="369.0" y1="660.5" x2="697.6" y2="660.5" stroke="#262626" stroke-width="1.0" />
<polygon points="369.30,659.50 371.50,658.70 378.50,658.40 379.90,657.70 381.80,657.80 381.80,662.20 379.90,662.30 378.50,661.60 371.50,661.30 369.30,660.50" fill="#151515"/>
<polygon points="697.30,659.50 695.10,658.70 688.10,658.40 686.70,657.70 684.80,657.80 684.80,662.20 686.70,662.30 688.10,661.60 695.10,661.30 697.30,660.50" fill="#151515"/>
<g fill="none" stroke="#3a3a3a" stroke-width="1.1" stroke-linecap="round" stroke-linejoin="round" class="t" ><path transform="matrix(1.4074 0.0000 0.3960 -1.3200 506.750 651.750)" d="M4.8,10 L0.6,10 L0.3,5.6 C1,6.1 1.8,6.3 2.6,6.3 C4.1,6.3 5,5.1 5,3.3 C5,1.2 4,0 2.4,0 L0,0"/><path transform="matrix(1.4074 0.0000 0.3960 -1.3200 516.602 651.750)" d="M0,2.6 L0,7.4 C0,10.5 5,10.5 5,7.4 L5,2.6 C5,-0.5 0,-0.5 0,2.6 Z"/><path transform="matrix(1.4074 0.0000 0.3960 -1.3200 526.454 651.750)" d="M0,2.6 L0,7.4 C0,10.5 5,10.5 5,7.4 L5,2.6 C5,-0.5 0,-0.5 0,2.6 Z"/><path transform="matrix(1.4074 0.0000 0.3960 -1.3200 536.306 651.750)" d="M0.3,4.4 L3.7,4.4 M2,2.6 L2,6.2 M0.3,0.3 L3.7,0.3"/><path transform="matrix(1.4074 0.0000 0.3960 -1.3200 544.750 651.750)" d="M0.1,7.8 C0.4,9.4 1.4,10 2.5,10 C3.9,10 5,9.1 5,7.6 C5,6.4 4.4,5.6 3.4,4.6 L0,0.9 L0,0 L5,0"/></g>
<line x1="359.5" y1="604" x2="359.5" y2="700.8" stroke="#262626" stroke-width="1.0" />
<line x1="706.5" y1="604" x2="706.5" y2="700.8" stroke="#262626" stroke-width="1.0" />
<line x1="359.2" y1="698.5" x2="706.7" y2="698.5" stroke="#262626" stroke-width="1.0" />
<polygon points="359.50,697.80 361.70,697.00 368.70,696.70 370.10,696.00 372.00,696.10 372.00,700.50 370.10,700.60 368.70,699.90 361.70,699.60 359.50,698.80" fill="#151515"/>
<polygon points="706.40,697.80 704.20,697.00 697.20,696.70 695.80,696.00 693.90,696.10 693.90,700.50 695.80,700.60 697.20,699.90 704.20,699.60 706.40,698.80" fill="#151515"/>
<g fill="none" stroke="#3a3a3a" stroke-width="1.1" stroke-linecap="round" stroke-linejoin="round" class="t" ><path transform="matrix(1.3322 0.0000 0.3960 -1.3200 507.150 689.050)" d="M4.8,10 L0.6,10 L0.3,5.6 C1,6.1 1.8,6.3 2.6,6.3 C4.1,6.3 5,5.1 5,3.3 C5,1.2 4,0 2.4,0 L0,0"/><path transform="matrix(1.3322 0.0000 0.3960 -1.3200 516.476 689.050)" d="M0,8.6 C0.4,9.6 1.4,10 2.5,10 C3.9,10 4.8,9.1 4.8,7.8 C4.8,6.4 3.8,5.6 2.2,5.6 C3.9,5.6 5,4.7 5,3 C5,1.1 3.9,0 2.5,0 C1.3,0 0.3,0.5 0,1.6"/><path transform="matrix(1.3322 0.0000 0.3960 -1.3200 525.801 689.050)" d="M0,2.6 L0,7.4 C0,10.5 5,10.5 5,7.4 L5,2.6 C5,-0.5 0,-0.5 0,2.6 Z"/><path transform="matrix(1.3322 0.0000 0.3960 -1.3200 535.127 689.050)" d="M0.3,4.4 L3.7,4.4 M2,2.6 L2,6.2 M0.3,0.3 L3.7,0.3"/><path transform="matrix(1.3322 0.0000 0.3960 -1.3200 543.120 689.050)" d="M0.1,7.8 C0.4,9.4 1.4,10 2.5,10 C3.9,10 5,9.1 5,7.6 C5,6.4 4.4,5.6 3.4,4.6 L0,0.9 L0,0 L5,0"/></g>
<line x1="675.5" y1="226.2" x2="675.5" y2="277.7" stroke="#262626" stroke-width="1.0" />
<polygon points="675.10,244.50 674.30,242.30 674.00,235.30 673.30,233.90 673.40,232.00 677.80,232.00 677.90,233.90 677.20,235.30 676.90,242.30 676.10,244.50" fill="#151515"/>
<polygon points="675.10,258.30 674.30,260.50 674.00,267.50 673.30,268.90 673.40,270.80 677.80,270.80 677.90,268.90 677.20,267.50 676.90,260.50 676.10,258.30" fill="#151515"/>
<line x1="675.6" y1="252.5" x2="656.6" y2="299.5" stroke="#262626" stroke-width="1.0" />
<line x1="656.6" y1="299.5" x2="580.8" y2="299.5" stroke="#262626" stroke-width="1.0" />
<g fill="none" stroke="#3a3a3a" stroke-width="1.1" stroke-linecap="round" stroke-linejoin="round" class="t" ><path transform="matrix(1.3044 0.0000 0.3720 -1.2400 588.884 289.450)" d="M2.4,0 C0.9,0 0.1,1.5 0.1,3.6 C0.1,5.8 1.0,7.2 2.5,7.2 C4.0,7.2 4.8,5.8 4.8,3.6 C4.8,1.5 3.9,0 2.4,0 Z M0.2,-1.6 L4.2,9.4"/><path transform="matrix(1.3044 0.0000 0.3720 -1.2400 598.015 289.450)" d="M0.1,7.8 C0.4,9.4 1.4,10 2.5,10 C3.9,10 5,9.1 5,7.6 C5,6.4 4.4,5.6 3.4,4.6 L0,0.9 L0,0 L5,0"/><path transform="matrix(1.3044 0.0000 0.3720 -1.2400 607.146 289.450)" d="M0,2.6 L0,7.4 C0,10.5 5,10.5 5,7.4 L5,2.6 C5,-0.5 0,-0.5 0,2.6 Z"/><path transform="matrix(1.3044 0.0000 0.3720 -1.2400 616.277 289.450)" d="M0.2,1.2 L3.8,5.4 M0.2,5.4 L3.8,1.2"/><path transform="matrix(1.3044 0.0000 0.3720 -1.2400 624.103 289.450)" d="M0,6.4 L3,10 L3,0"/><path transform="matrix(1.3044 0.0000 0.3720 -1.2400 630.886 289.450)" d="M0.7,0.7 L0,-2"/><path transform="matrix(1.3044 0.0000 0.3720 -1.2400 634.669 289.450)" d="M4.8,10 L0.6,10 L0.3,5.6 C1,6.1 1.8,6.3 2.6,6.3 C4.1,6.3 5,5.1 5,3.3 C5,1.2 4,0 2.4,0 L0,0"/></g>
<path d="M368.6,732.8 L368.6,814.5 A31.9,27.9 0 0 0 400.5,842.3 L666.5,842.3 A31,27.6 0 0 0 697.5,814.5 L697.5,732.8" stroke="#d0b385" stroke-width="1.2" fill="none" stroke-dasharray="50 4.5 2 4.5" stroke-dashoffset="-20"/>
<line x1="354.0" y1="781.4" x2="383.6" y2="781.4" stroke="#d0b385" stroke-width="1.2" />
<line x1="361.8" y1="768" x2="375.8" y2="768" stroke="#d0b385" stroke-width="1.2" />
<line x1="682.7" y1="781.4" x2="712.3" y2="781.4" stroke="#d0b385" stroke-width="1.2" />
<line x1="690.5" y1="768" x2="704.5" y2="768" stroke="#d0b385" stroke-width="1.2" />
<path d="M361.5,786.5 L361.5,809.3 A34.4,39.3 0 0 0 395.9,848.6 L674.3,848.6 A29.9,37.4 0 0 0 704.2,811.2 L704.2,786.5" stroke="#1d1a8c" stroke-width="2.0" fill="none" />
<path d="M375.5,786.5 L375.5,812.5 A21.1,22.1 0 0 0 396.6,834.7 L668.4,834.7 A21.6,19.7 0 0 0 690.0,815.1 L690.0,786.5" stroke="#1d1a8c" stroke-width="2.0" fill="none" />
<rect x="355.40000000000003" y="736.5" width="26.8" height="3.7" fill="#d4d4f6" stroke="#1d1a8c" stroke-width="1.8"/>
<line x1="362.40000000000003" y1="740.2" x2="362.40000000000003" y2="771.4" stroke="#1d1a8c" stroke-width="2.0" stroke-linecap="square"/>
<line x1="375.2" y1="740.2" x2="375.2" y2="771.4" stroke="#1d1a8c" stroke-width="2.0" stroke-linecap="square"/>
<path d="M362.40000000000003,771.4 L375.2,771.4" stroke="#1d1a8c" stroke-width="2.0" fill="none" />
<circle cx="368.8" cy="781.4" r="9" fill="none" stroke="#1d1a8c" stroke-width="2"/>
<circle cx="368.8" cy="781.4" r="4.2" fill="#1818d8"/>
<circle cx="368.8" cy="768" r="1.6" fill="#c08a5a"/>
<rect x="684.2" y="736.5" width="26.8" height="3.7" fill="#d4d4f6" stroke="#1d1a8c" stroke-width="1.8"/>
<line x1="691.2" y1="740.2" x2="691.2" y2="771.4" stroke="#1d1a8c" stroke-width="2.0" stroke-linecap="square"/>
<line x1="704.0" y1="740.2" x2="704.0" y2="771.4" stroke="#1d1a8c" stroke-width="2.0" stroke-linecap="square"/>
<path d="M691.2,771.4 L704.0,771.4" stroke="#1d1a8c" stroke-width="2.0" fill="none" />
<circle cx="697.6" cy="781.4" r="9" fill="none" stroke="#1d1a8c" stroke-width="2"/>
<circle cx="697.6" cy="781.4" r="3.4" fill="none" stroke="#1d1a8c" stroke-width="2"/>
<circle cx="697.6" cy="768" r="1.6" fill="#c08a5a"/>
<line x1="711" y1="737.5" x2="763.4" y2="737.5" stroke="#262626" stroke-width="1.0" />
<line x1="675" y1="848.5" x2="770" y2="848.5" stroke="#262626" stroke-width="1.0" />
<line x1="760.5" y1="737.5" x2="760.5" y2="848.5" stroke="#262626" stroke-width="1.0" />
<polygon points="760.40,737.80 759.60,740.00 759.30,747.00 758.60,748.40 758.70,750.30 763.10,750.30 763.20,748.40 762.50,747.00 762.20,740.00 761.40,737.80" fill="#151515"/>
<polygon points="760.40,848.20 759.60,846.00 759.30,839.00 758.60,837.60 758.70,835.70 763.10,835.70 763.20,837.60 762.50,839.00 762.20,846.00 761.40,848.20" fill="#151515"/>
<g fill="none" stroke="#3a3a3a" stroke-width="1.1" stroke-linecap="round" stroke-linejoin="round" class="t" ><path transform="matrix(0.0000 -1.3149 -1.5700 -0.4710 753.950 812.664)" d="M0,6.4 L3,10 L3,0"/><path transform="matrix(0.0000 -1.3149 -1.5700 -0.4710 753.950 805.827)" d="M0.2,10 L5,10 C4.2,8 2.6,4.5 1.8,0"/><path transform="matrix(0.0000 -1.3149 -1.5700 -0.4710 753.950 796.622)" d="M0,6.4 L3,10 L3,0"/><path transform="matrix(0.0000 -1.3149 -1.5700 -0.4710 753.950 789.785)" d="M0.7,0.7 L0,-2"/><path transform="matrix(0.0000 -1.3149 -1.5700 -0.4710 753.950 785.972)" d="M4.8,10 L0.6,10 L0.3,5.6 C1,6.1 1.8,6.3 2.6,6.3 C4.1,6.3 5,5.1 5,3.3 C5,1.2 4,0 2.4,0 L0,0"/></g>
</svg>
</body></html>
